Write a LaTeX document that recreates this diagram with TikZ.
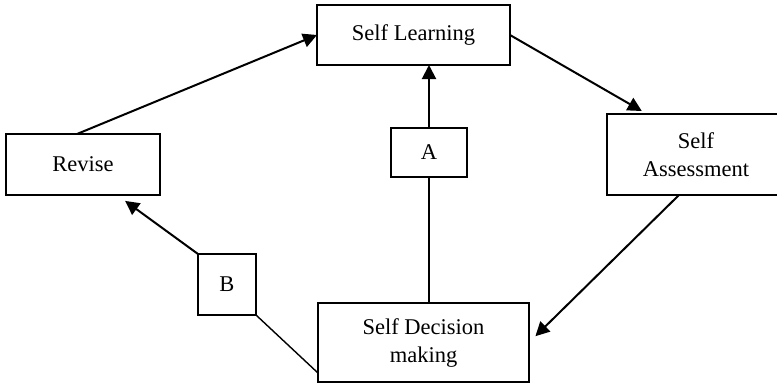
\documentclass[tikz,border=0pt]{standalone}
\usepackage{fontspec}
\setmainfont{Liberation Serif}
\usetikzlibrary{arrows.meta}

\begin{document}
\begin{tikzpicture}[x=1pt,y=-1pt,
    box/.style={draw,line width=1.4pt,inner sep=0pt,outer sep=0pt,align=center,
        font=\fontsize{22.5}{28}\selectfont},
    flow/.style={line width=2pt,-{Triangle[length=14pt,width=14pt]}},
    link/.style={line width=1.4pt}]
\clip (0,0) rectangle (777,384);
\node[box,minimum width=193pt,minimum height=60pt] (learn) at (413.5,35){Self Learning};
\node[box,minimum width=154pt,minimum height=61pt] (revise) at (83,164.5){Revise};
\node[box,minimum width=178pt,minimum height=81pt] (assess) at (696,154.5){Self\\Assessment};
\node[box,minimum width=211pt,minimum height=79pt] (decide) at (423.5,342.5){Self Decision\\making};
\node[box,minimum width=76pt,minimum height=49pt] (nodeA) at (429,152.5){A};
\node[box,minimum width=58pt,minimum height=61pt] (nodeB) at (227,284.5){B};
\draw[flow] ([xshift=-6pt]revise.north) -- (learn.west);
\draw[flow,shorten >=6pt] (learn.east) -- ([xshift=40pt]assess.north west);
\draw[flow,shorten >=9pt] ([xshift=-17pt]assess.south) -- (decide.east);
\draw[flow] (nodeA.north) -- (nodeA.north |- learn.south);
\draw[link] (nodeA.south) -- (nodeA.south |- decide.north);
\draw[flow,shorten >=10pt] (nodeB.north west) -- ([xshift=34pt]revise.south);
\draw[link] (nodeB.south east) -- ([yshift=9pt]decide.south west);
\end{tikzpicture}
\end{document}
